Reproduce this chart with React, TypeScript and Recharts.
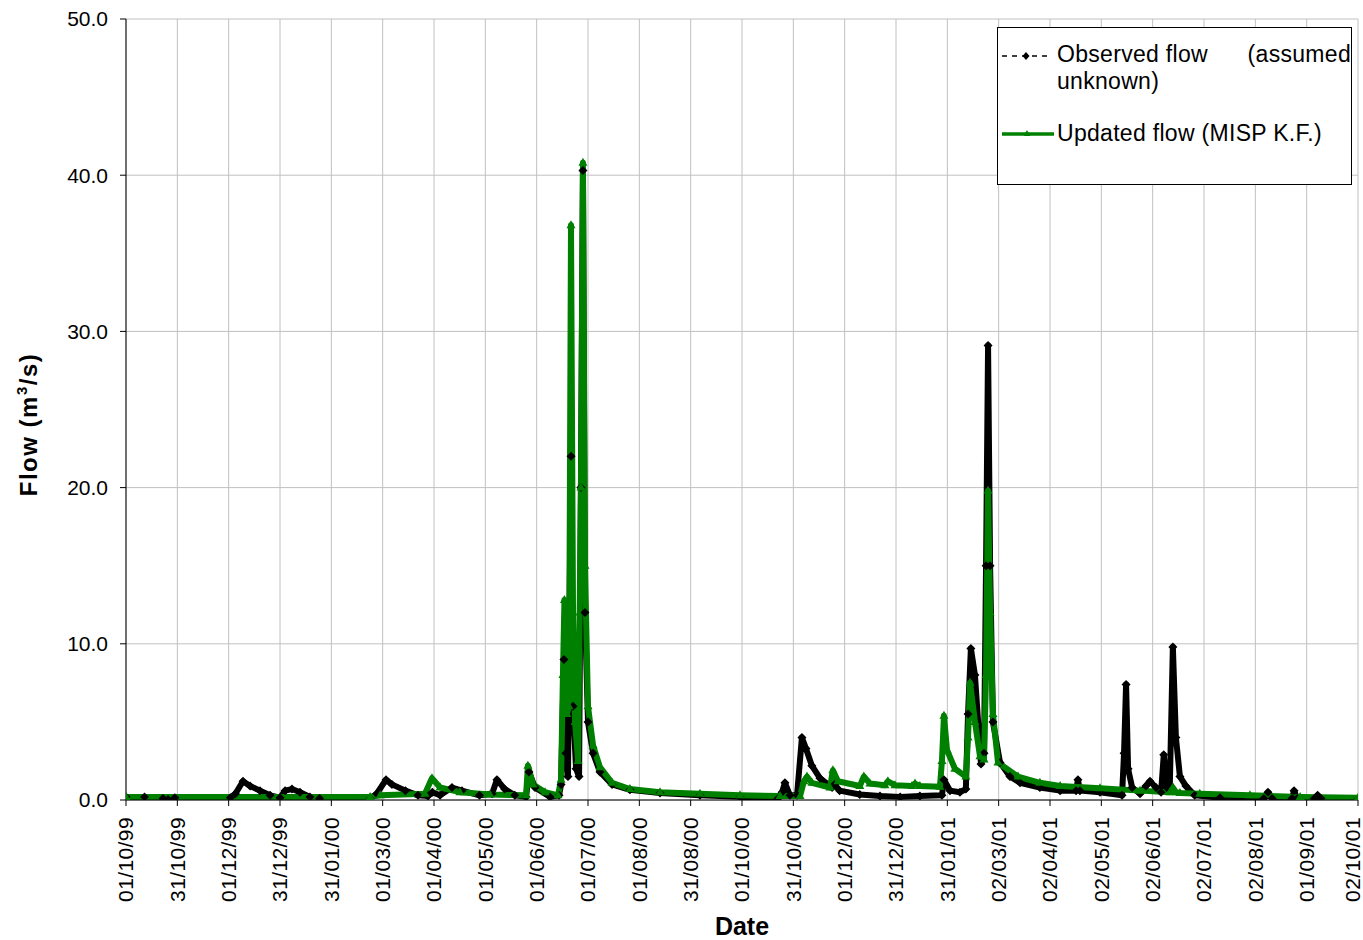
import React from 'react';
import { LineChart, Line, XAxis, YAxis, CartesianGrid, Legend, Label } from 'recharts';

const FONT = '"Liberation Sans", Arial, Helvetica, sans-serif';
const GREEN = '#008000';

// Days elapsed since 01/10/99 and flows (m3/s) for the observed series
const observedDays = [
  0, 11, 22, 25, 29, 62, 65, 69.5, 73.7, 79.6, 85.6, 91.5, 94.5, 98.6, 103.4, 109.3, 115,
  145, 149, 154.5, 158, 166, 173.5, 179.4, 182, 186.6, 193.7, 199.6, 210, 217.5, 220.4, 225,
  231, 237.7, 239.4, 243, 252, 257.3, 258.5, 260.2, 261.4, 262.6, 264.4, 265.6, 267.4, 269.2,
  270.3, 271.5, 272.7, 274.5, 277.5, 281.6, 288.8, 299.4, 317.3, 341, 364.8, 387.4, 389.8,
  391.5, 394.5, 398.7, 401.6, 404, 407.5, 412.3, 419.5, 421, 424, 436, 448, 460, 471.7, 484.8,
  486, 489.6, 495.5, 499, 500.3, 502, 504.4, 508, 509.8, 511, 512.2, 513.4, 515.1, 519.3, 525.2,
  531.2, 543, 555, 564.5, 565.6, 566.8, 578.7, 591.8, 593, 594.2, 595.4, 597.8, 602.5, 606,
  608.4, 612, 615, 616.6, 618.4, 620.2, 622, 623.8, 626.2, 629.7, 635, 650, 676, 678.5, 681,
  692.8, 694, 695.8, 706, 708, 710, 732,
];
const observedFlow = [
  0.2, 0.2, 0.1, 0.03, 0.15, 0.15, 0.4, 1.2, 0.9, 0.6, 0.3, 0.15, 0.6, 0.7, 0.5, 0.2, 0.1,
  0.1, 0.4, 1.3, 1.0, 0.6, 0.3, 0.25, 0.5, 0.3, 0.8, 0.6, 0.3, 0.4, 1.3, 0.7,
  0.3, 0.2, 1.8, 0.8, 0.2, 0.3, 1.0, 9.0, 3.0, 1.5, 22.0, 6.0, 2.0, 1.5,
  20.0, 40.3, 12.0, 5.0, 3.0, 1.8, 1.0, 0.65, 0.45, 0.3, 0.2, 0.1, 0.5,
  1.1, 0.3, 0.3, 4.0, 3.3, 2.2, 1.4, 0.8, 1.0, 0.6, 0.35, 0.25, 0.2, 0.25, 0.3,
  1.3, 0.6, 0.5, 0.7, 5.5, 9.7, 8.0, 2.3, 3.0, 15.0, 29.1, 15.0, 5.0, 2.4, 1.5,
  1.1, 0.8, 0.6, 0.6, 1.3, 0.6, 0.5, 0.3, 3.0, 7.4, 2.0, 0.8, 0.4, 0.9,
  1.2, 0.8, 0.5, 2.9, 0.8, 1.0, 9.8, 4.0, 1.5, 0.9, 0.3, 0.15, 0.1, 0.5, 0.1,
  0.1, 0.6, 0.1, 0.1, 0.3, 0.1, 0.05,
];

// Days elapsed since 01/10/99 and flows (m3/s) for the Kalman-filter update
const updatedDays = [
  0, 145, 151, 177.6, 181.8, 186.6, 198.4, 216.3, 237.7, 238.8, 241.8, 249, 256.7, 258.5,
  259.6, 260.5, 262, 263.2, 264.4, 265.6, 266.8, 268.6, 270.3, 271.5, 272.7, 274.5, 277.5,
  281.6, 288.8, 299.4, 317.3, 341, 364.8, 388.6, 400.5, 402.8, 404.6, 407.5, 418.3, 420,
  423, 436, 438.4, 442, 450.9, 452.7, 456.9, 467, 468.8, 471.7, 483.6, 484.8, 486, 487.8,
  492.5, 499, 500.3, 501.5, 504.4, 507.4, 509.8, 511, 512.2, 513.4, 515.1, 518.1, 530,
  543, 555, 578.7, 602.5, 620.2, 622, 623.8, 626.2, 638, 667.8, 697.6, 732,
];
const updatedFlow = [
  0.2, 0.2, 0.3, 0.4, 1.4, 0.8, 0.5, 0.35, 0.3, 2.2, 1.0, 0.5, 0.3, 1.3,
  8.0, 12.8, 5.5, 6.0, 36.8, 12.0, 5.0, 2.5, 20.0, 40.8, 15.0, 6.0, 3.5,
  2.1, 1.1, 0.7, 0.5, 0.4, 0.3, 0.25, 0.25, 1.2, 1.5, 1.1, 0.8, 1.9,
  1.2, 0.9, 1.5, 1.05, 0.95, 1.2, 0.95, 0.9, 1.05, 0.9, 0.85, 2.5, 5.4, 3.2,
  2.0, 1.5, 4.0, 7.5, 5.0, 2.8, 2.6, 8.0, 19.8, 12.0, 5.5, 2.4, 1.5,
  1.1, 0.9, 0.75, 0.6, 0.5, 0.8, 0.5, 0.45, 0.4, 0.3, 0.2, 0.15,
];

// Date labels of the horizontal axis, one every 30.5 days
const tickLabels = [
  '01/10/99', '31/10/99', '01/12/99', '31/12/99', '31/01/00', '01/03/00', '01/04/00',
  '01/05/00', '01/06/00', '01/07/00', '01/08/00', '31/08/00', '01/10/00', '31/10/00',
  '01/12/00', '31/12/00', '31/01/01', '02/03/01', '02/04/01', '02/05/01', '02/06/01',
  '02/07/01', '02/08/01', '01/09/01', '02/10/01',
];
const TICK_STEP = 30.5;
const tickDays = tickLabels.map((_, i) => i * TICK_STEP);
const flowTicks = [0, 10, 20, 30, 40, 50];

const observedData = observedDays.map((d, i) => ({ day: d, flow: observedFlow[i] }));
const updatedData = updatedDays.map((d, i) => ({ day: d, flow: updatedFlow[i] }));

const Diamond = (props: any) => {
  const { cx, cy } = props;
  if (cx == null || cy == null) return <g />;
  return (
    <path
      d={`M${cx},${cy - 4.5}L${cx + 4.5},${cy}L${cx},${cy + 4.5}L${cx - 4.5},${cy}Z`}
      fill="#000"
    />
  );
};

const Triangle = (props: any) => {
  const { cx, cy } = props;
  if (cx == null || cy == null) return <g />;
  return (
    <path
      d={`M${cx},${cy - 5}L${cx + 4.5},${cy + 3}L${cx - 4.5},${cy + 3}Z`}
      fill={GREEN}
    />
  );
};

const DateTick = (props: any) => {
  const { x, y, payload } = props;
  const idx = Math.round(payload.value / TICK_STEP);
  // keep the last label inside the drawing area
  const shift = idx === tickLabels.length - 1 ? -5 : 0;
  return (
    <g transform={`translate(${x + shift},${y})`}>
      <text
        transform="rotate(-90)"
        x={-9}
        y={0}
        dy="0.35em"
        textAnchor="end"
        fontFamily={FONT}
        fontSize={21}
        letterSpacing={0.4}
        fill="#000"
      >
        {tickLabels[idx]}
      </text>
    </g>
  );
};

const FlowAxisTitle = (props: any) => {
  const vb = props.viewBox || { x: 0, y: 19, width: 126, height: 781 };
  const cy = vb.y + vb.height / 2 + 15;
  const cx = 37;
  return (
    <text
      transform={`translate(${cx},${cy}) rotate(-90)`}
      textAnchor="middle"
      fontFamily={FONT}
      fontSize={24}
      fontWeight="bold"
      letterSpacing={1.5}
      fill="#000"
    >
      <tspan>Flow (m</tspan>
      <tspan dy={-10} fontSize={15}>3</tspan>
      <tspan dy={10}>/s)</tspan>
    </text>
  );
};

const DateAxisTitle = (props: any) => {
  const vb = props.viewBox || { x: 126, y: 800, width: 1232, height: 140 };
  return (
    <text
      x={vb.x + vb.width / 2}
      y={vb.y + vb.height - 5}
      textAnchor="middle"
      fontFamily={FONT}
      fontSize={25}
      fontWeight="bold"
      fill="#000"
    >
      Date
    </text>
  );
};

const legendText: React.CSSProperties = {
  position: 'absolute',
  left: 59,
  width: 294,
  fontFamily: FONT,
  fontSize: 23,
  letterSpacing: 0.3,
  lineHeight: '27px',
  color: '#000',
};

const FlowLegend = () => (
  <div
    style={{
      position: 'relative',
      width: 355,
      height: 158,
      boxSizing: 'border-box',
      border: '1px solid #000',
      background: '#fff',
    }}
  >
    <svg style={{ position: 'absolute', left: 4, top: 22 }} width={48} height={12}>
      <line x1={0} y1={6} x2={48} y2={6} stroke="#000" strokeWidth={1.5} strokeDasharray="5 5" />
      <path d="M24,2L27.5,6L24,10L20.5,6Z" fill="#000" />
    </svg>
    <div style={{ ...legendText, top: 13 }}>
      <div style={{ display: 'flex', justifyContent: 'space-between' }}>
        <span>Observed flow</span>
        <span>(assumed</span>
      </div>
      <div>unknown)</div>
    </div>
    <svg style={{ position: 'absolute', left: 4, top: 100 }} width={52} height={12}>
      <line x1={0} y1={6} x2={52} y2={6} stroke={GREEN} strokeWidth={3.5} />
      <path d="M25,2L28.5,8L21.5,8Z" fill={GREEN} />
    </svg>
    <div style={{ ...legendText, top: 92 }}>Updated flow (MISP K.F.)</div>
  </div>
);

export default function App() {
  return (
    <div style={{ position: 'absolute', left: 0, top: 0, width: 1363, height: 940, background: '#fff' }}>
      <LineChart width={1363} height={940} margin={{ top: 19, right: 5, bottom: 0, left: 0 }}>
        <CartesianGrid stroke="#c0c0c0" strokeWidth={1} />
        <XAxis
          dataKey="day"
          type="number"
          domain={[0, 732]}
          ticks={tickDays}
          interval={0}
          height={140}
          tickSize={6}
          tickMargin={2}
          tick={<DateTick />}
          axisLine={{ stroke: '#000', strokeWidth: 1 }}
          tickLine={{ stroke: '#000' }}
          allowDataOverflow
        >
          <Label content={<DateAxisTitle />} />
        </XAxis>
        <YAxis
          type="number"
          domain={[0, 50]}
          ticks={flowTicks}
          interval={0}
          width={126}
          tickSize={6}
          tickMargin={12}
          tickFormatter={(v: number) => v.toFixed(1)}
          tick={{ fontFamily: FONT, fontSize: 21, fill: '#000' }}
          axisLine={{ stroke: '#000', strokeWidth: 1 }}
          tickLine={{ stroke: '#000' }}
          allowDataOverflow
        >
          <Label content={<FlowAxisTitle />} />
        </YAxis>
        <Legend
          layout="vertical"
          align="center"
          verticalAlign="middle"
          wrapperStyle={{ left: 997, top: 27, width: 355, height: 158 }}
          content={<FlowLegend />}
        />
        <Line
          data={observedData}
          dataKey="flow"
          name="Observed flow (assumed unknown)"
          type="linear"
          stroke="#000"
          strokeWidth={6}
          strokeLinejoin="round"
          dot={<Diamond />}
          activeDot={false}
          isAnimationActive={false}
        />
        <Line
          data={updatedData}
          dataKey="flow"
          name="Updated flow (MISP K.F.)"
          type="linear"
          stroke={GREEN}
          strokeWidth={6}
          strokeLinejoin="round"
          dot={<Triangle />}
          activeDot={false}
          isAnimationActive={false}
        />
      </LineChart>
    </div>
  );
}
